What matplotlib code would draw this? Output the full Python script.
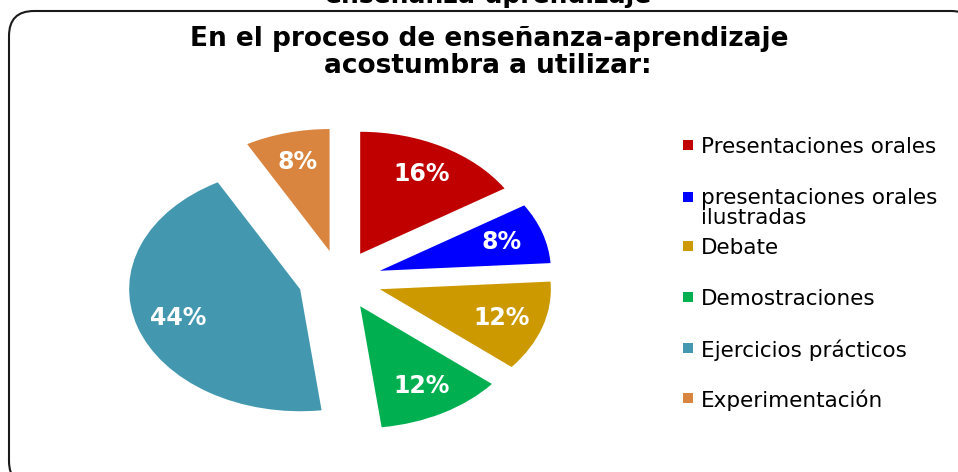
import matplotlib
matplotlib.use("Agg")
import matplotlib.pyplot as plt
from matplotlib.patches import FancyBboxPatch, Rectangle
from matplotlib.transforms import IdentityTransform

# ---- data ----
categories = ["Presentaciones orales", "presentaciones orales\nilustradas", "Debate",
              "Demostraciones", "Ejercicios prácticos", "Experimentación"]
values = [16, 8, 12, 12, 44, 8]
colors = ["#C00000", "#0000FF", "#CC9900", "#00B050", "#4398AF", "#D9843F"]
title_lines = ["En el proceso de enseñanza-aprendizaje", "acostumbra a utilizar:"]
clipped_header = "enseñanza-aprendizaje"

W, H = 958, 472
fig = plt.figure(figsize=(W / 100, H / 100), dpi=100)
fig.patch.set_facecolor("white")

def fy(py):  # image pixel y (from top) -> figure fraction
    return (H - py) / H

def fx(px):
    return px / W

# full-figure pixel axes for the rounded border (filled white to avoid clip artifacts)
bax = fig.add_axes([0, 0, 1, 1], zorder=-1)
bax.set_xlim(0, W)
bax.set_ylim(H, 0)
bax.axis("off")
border = FancyBboxPatch((9, 11), 976 - 9, 486 - 11,
                        boxstyle="round,pad=0,rounding_size=25",
                        facecolor="white", edgecolor="#1a1a1a", linewidth=1.5)
bax.add_patch(border)

# clipped header text at very top
fig.text(fx(489), fy(3), clipped_header, ha="center", va="baseline",
         fontsize=18, fontweight="bold", family="DejaVu Sans", color="black")

# title
fig.text(fx(489), fy(46), title_lines[0], ha="center", va="baseline",
         fontsize=19, fontweight="bold", family="DejaVu Sans", color="black")
fig.text(fx(488), fy(73), title_lines[1], ha="center", va="baseline",
         fontsize=19, fontweight="bold", family="DejaVu Sans", color="black")

# pie axes: center (340,280) px, radii 171 x 122 px
cx, cy, rx, ry = 340, 280, 171, 122
ax = fig.add_axes([fx(cx - 1.5 * rx), fy(cy + 1.5 * ry), 3 * rx / W, 3 * ry / H])
wedges, texts, autotexts = ax.pie(values, colors=colors, startangle=90, counterclock=False,
                                  explode=[0.245] * len(values), autopct="%1.0f%%",
                                  pctdistance=0.75,
                                  wedgeprops=dict(edgecolor="none", linewidth=0),
                                  textprops=dict(color="white", fontsize=17,
                                                 fontweight="bold", family="DejaVu Sans"))
ax.set_aspect("auto")
ax.set_xlim(-1.5, 1.5)
ax.set_ylim(-1.5, 1.5)
ax.axis("off")

# legend (manual for exact placement)
legend_y = [145, 197, 246, 297, 348, 398]
for lab, col, y in zip(categories, colors, legend_y):
    fig.add_artist(Rectangle((683, H - y - 5), 10, 10, transform=IdentityTransform(),
                             facecolor=col, edgecolor="none"))
    if "\n" in lab:
        fig.text(fx(701), fy(y - 9), lab, ha="left", va="top",
                 fontsize=15.5, family="DejaVu Sans", color="black", linespacing=1.0)
    else:
        fig.text(fx(701), fy(y), lab, ha="left", va="center_baseline",
                 fontsize=15.5, family="DejaVu Sans", color="black")

fig.savefig("out.png", dpi=100)
